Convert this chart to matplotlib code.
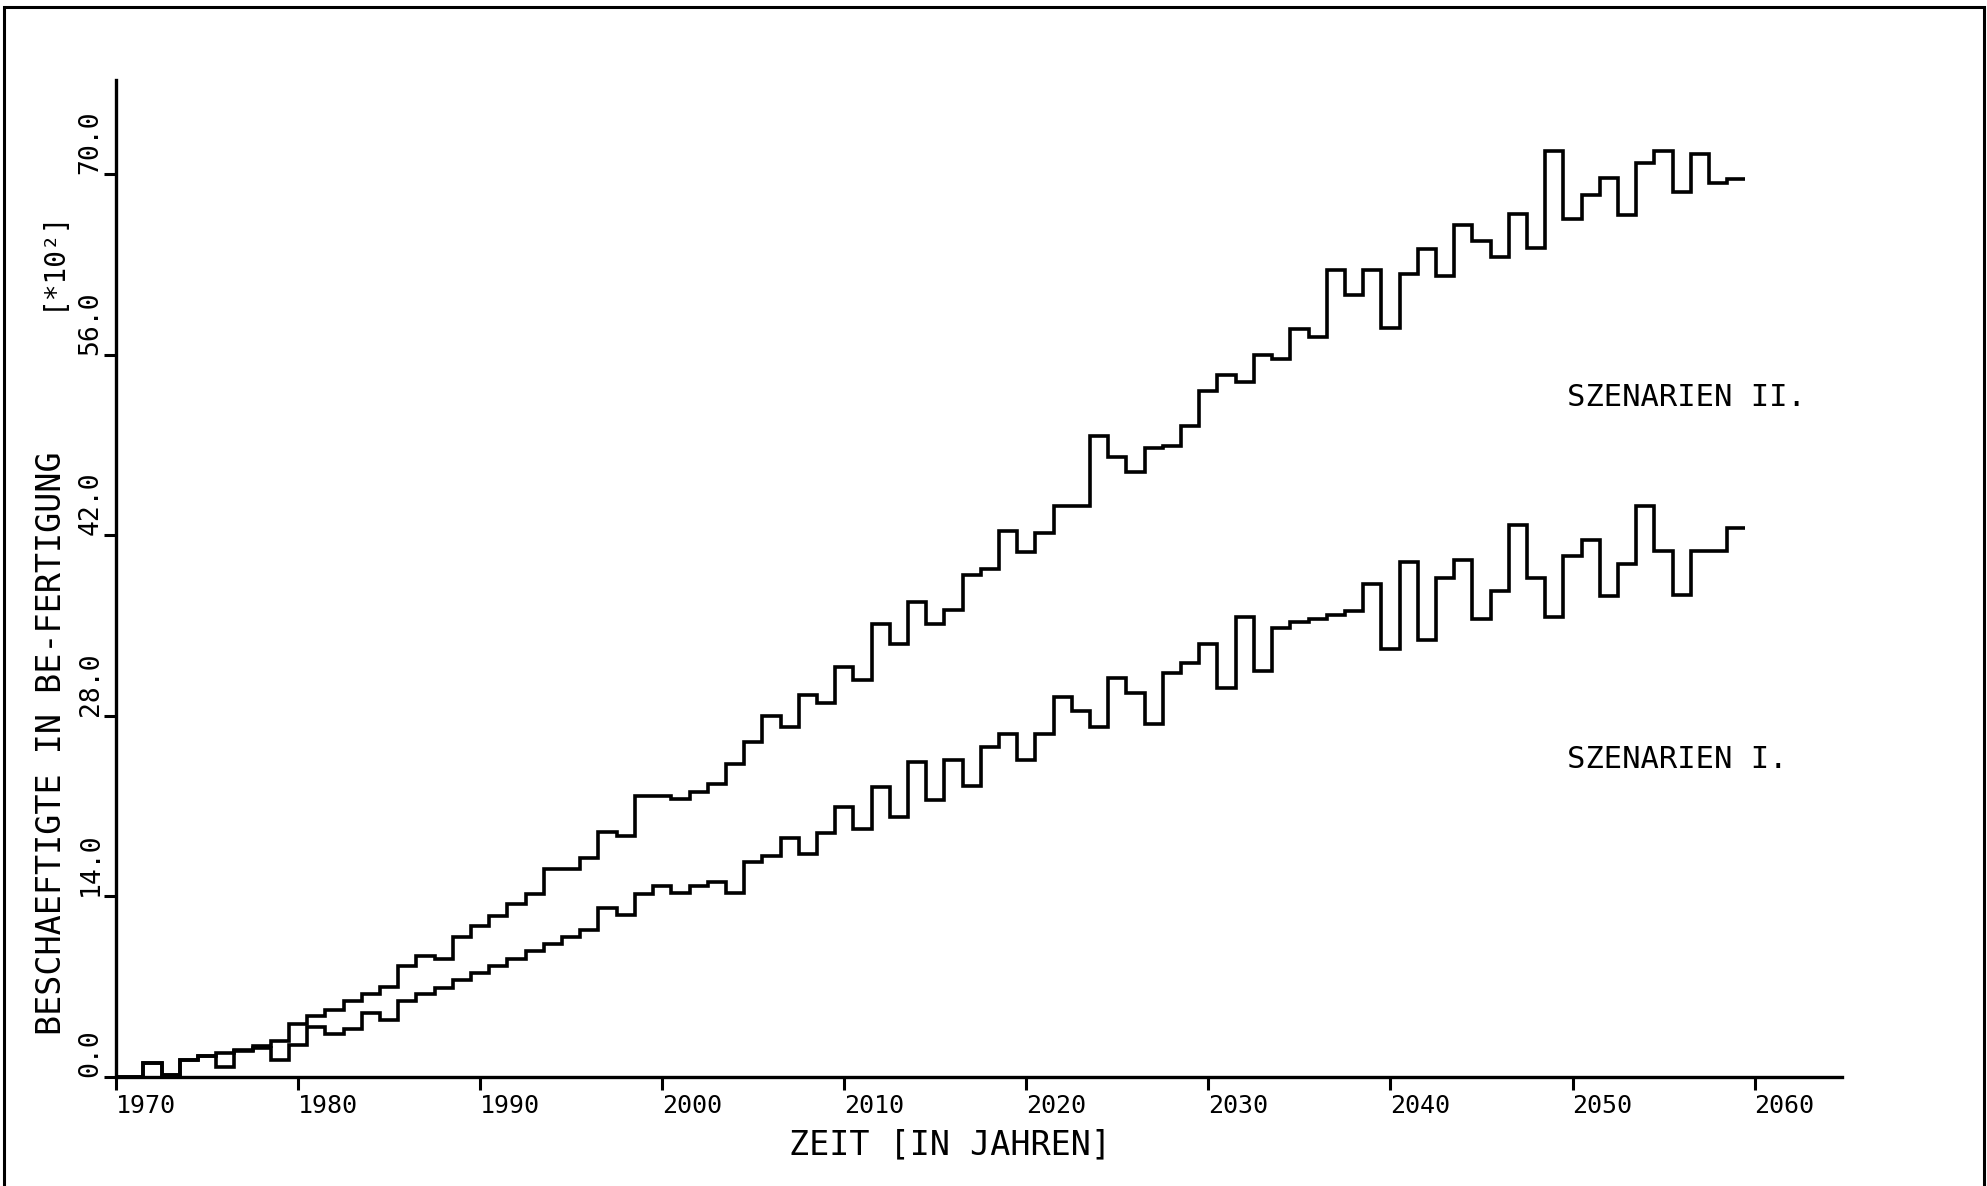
import numpy as np
import matplotlib
matplotlib.use("Agg")
import matplotlib.pyplot as plt
from matplotlib.patches import Rectangle

plt.rcParams['font.family'] = ['DejaVu Sans Mono', 'DejaVu Sans']

# one value per year, steps centred on the year
years = list(range(1970, 2060))

# SZENARIEN II. (upper curve), Beschaeftigte *10^2
szen2 = [
    0.0, 0.0, 1.1, 0.15, 1.3, 1.6, 1.9, 2.1, 2.4, 2.8,
    4.1, 4.7, 5.2, 5.9, 6.4, 7.0, 8.6, 9.4, 9.15, 10.85,
    11.7, 12.5, 13.4, 14.2, 16.15, 16.15, 17.0, 19.0, 18.7, 21.8,
    21.8, 21.55, 22.1, 22.7, 24.3, 26.0, 28.0, 27.1, 29.6, 29.0,
    31.8, 30.8, 35.1, 33.6, 36.8, 35.1, 36.2, 38.9, 39.4, 42.3,
    40.7, 42.2, 44.3, 44.3, 49.7, 48.1, 46.9, 48.8, 48.9, 50.5,
    53.2, 54.4, 53.9, 56.0, 55.7, 58.0, 57.4, 62.6, 60.6, 62.6,
    58.1, 62.3, 64.2, 62.1, 66.1, 64.8, 63.6, 66.9, 64.3, 71.8,
    66.5, 68.4, 69.7, 66.8, 70.9, 71.8, 68.6, 71.6, 69.3, 69.6,
]

# SZENARIEN I. (lower curve)
szen1 = [
    0.0, 0.0, 1.1, 0.15, 1.3, 1.6, 0.8, 2.0, 2.25, 1.35,
    2.5, 3.85, 3.3, 3.7, 5.0, 4.45, 5.9, 6.4, 6.9, 7.5,
    8.05, 8.6, 9.15, 9.75, 10.3, 10.85, 11.4, 13.1, 12.6, 14.2,
    14.8, 14.25, 14.8, 15.1, 14.25, 16.7, 17.1, 18.5, 17.3, 18.9,
    20.9, 19.2, 22.5, 20.15, 24.4, 21.5, 24.55, 22.6, 25.6, 26.6,
    24.55, 26.6, 29.5, 28.35, 27.1, 30.9, 29.8, 27.35, 31.3, 32.1,
    33.6, 30.2, 35.7, 31.5, 34.8, 35.3, 35.5, 35.8, 36.1, 38.2,
    33.2, 39.9, 33.9, 38.7, 40.1, 35.5, 37.7, 42.8, 38.7, 35.7,
    40.4, 41.6, 37.3, 39.8, 44.3, 40.8, 37.4, 40.8, 40.8, 42.6,
]

xticks = list(range(1970, 2061, 10))
yticks = [0.0, 14.0, 28.0, 42.0, 56.0, 70.0]

fig = plt.figure(figsize=(19.87, 11.86), dpi=100, facecolor='white')
ax = fig.add_axes([0.0584, 0.0919, 0.8686, 0.8406])

edges = np.r_[years[0], np.array(years) + 0.5]
ax.stairs(szen2, edges, baseline=None, color='black', lw=2.6)
ax.stairs(szen1, edges, baseline=None, color='black', lw=2.6)

ax.set_xlim(1970, 2064.8)
ax.set_ylim(0, 77.3)

for side in ['top', 'right']:
    ax.spines[side].set_visible(False)
for side in ['left', 'bottom']:
    ax.spines[side].set_linewidth(2.4)

ax.set_xticks(xticks)
ax.set_xticklabels([str(x) for x in xticks], fontsize=18)
for lab in ax.get_xticklabels():
    lab.set_horizontalalignment('left')
ax.set_yticks(yticks)
ax.set_yticklabels([f"{y:.1f}" for y in yticks], fontsize=19, rotation=90)
for lab in ax.get_yticklabels():
    lab.set_verticalalignment('bottom')
ax.tick_params(axis='x', direction='out', length=9, width=2.2, pad=3)
ax.tick_params(axis='y', direction='out', length=9, width=2.2, pad=0)

fig.text(0.478, 0.035, "ZEIT [IN JAHREN]", fontsize=24, ha='center', va='center')
fig.text(0.026, 0.373, "BESCHAEFTIGTE IN BE-FERTIGUNG", fontsize=24,
         rotation=90, ha='center', va='center')
fig.text(0.026, 0.781, "[*10²]", fontsize=20, rotation=90, ha='center', va='center')

ax.text(2049.7, 52.7, "SZENARIEN II.", fontsize=22, ha='left', va='center')
ax.text(2049.7, 24.6, "SZENARIEN I.", fontsize=22, ha='left', va='center')

# frame round the whole sheet
fig.patches.append(Rectangle((0.002, -0.02), 0.9965, 1.014, transform=fig.transFigure,
                             fill=False, edgecolor='black', lw=2.2))

fig.savefig("out.png", dpi=100, facecolor='white')
